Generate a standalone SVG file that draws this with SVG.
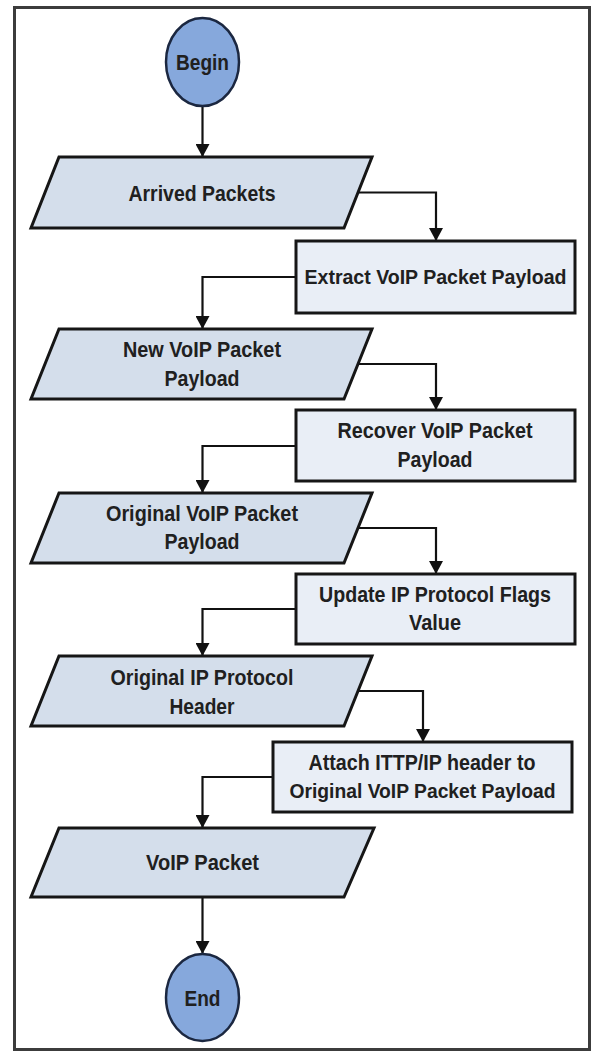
<svg xmlns="http://www.w3.org/2000/svg" width="592" height="1053" viewBox="0 0 592 1053">
<style>
.frame{fill:#ffffff;stroke:#3c3c3c;stroke-width:3}
.term{fill:#86a8dc;stroke:#1b2740;stroke-width:2.5}
.io{fill:#d4deeb;stroke:#161616;stroke-width:3;stroke-linejoin:miter}
.proc{fill:#e9eef6;stroke:#161616;stroke-width:3}
.conn{fill:none;stroke:#111111;stroke-width:2.2;marker-end:url(#arrow)}
text{font-family:"Liberation Sans",Arial,sans-serif;font-weight:bold;font-size:22.5px;fill:#202020;text-anchor:middle}
text.long{font-size:20px}
</style>
<defs>
<marker id="arrow" markerUnits="userSpaceOnUse" markerWidth="13" markerHeight="14" refX="13" refY="7" orient="auto">
<path d="M0,0 L13,7 L0,14 z" fill="#111111"/>
</marker>
</defs>
<rect class="frame" x="14.5" y="7.5" width="575" height="1042"/>
<g id="connectors">
<path class="conn" d="M202.5,106 V157"/>
<path class="conn" d="M358,192.5 H436 V241"/>
<path class="conn" d="M296,277 H202.5 V329"/>
<path class="conn" d="M358,364 H436 V410"/>
<path class="conn" d="M296,446 H202.5 V493"/>
<path class="conn" d="M358,528 H436 V574"/>
<path class="conn" d="M296,609 H202.5 V656"/>
<path class="conn" d="M358,691 H423 V742"/>
<path class="conn" d="M273,777 H202.5 V828"/>
<path class="conn" d="M202.5,897 V954"/>
</g>
<g id="begin">
<ellipse class="term" cx="202.5" cy="62" rx="36.5" ry="44"/>
<text x="202.5" y="70" textLength="53" lengthAdjust="spacingAndGlyphs">Begin</text>
</g>
<g id="arrived-packets">
<polygon class="io" points="59,157 372,157 344,228 31,228"/>
<text x="202" y="200.5" textLength="147" lengthAdjust="spacingAndGlyphs">Arrived Packets</text>
</g>
<g id="extract-payload">
<rect class="proc" x="296" y="241" width="279" height="72"/>
<text class="long" x="435.5" y="284" textLength="262" lengthAdjust="spacingAndGlyphs">Extract VoIP Packet Payload</text>
</g>
<g id="new-payload">
<polygon class="io" points="59,329 372,329 344,399 31,399"/>
<text x="202" y="357" textLength="158" lengthAdjust="spacingAndGlyphs">New VoIP Packet</text>
<text x="202" y="386" textLength="75" lengthAdjust="spacingAndGlyphs">Payload</text>
</g>
<g id="recover-payload">
<rect class="proc" x="296" y="410" width="279" height="71"/>
<text x="435" y="438" textLength="195" lengthAdjust="spacingAndGlyphs">Recover VoIP Packet</text>
<text x="435" y="467" textLength="75" lengthAdjust="spacingAndGlyphs">Payload</text>
</g>
<g id="original-payload">
<polygon class="io" points="59,493 372,493 344,563 31,563"/>
<text x="202" y="521" textLength="192" lengthAdjust="spacingAndGlyphs">Original VoIP Packet</text>
<text x="202" y="549" textLength="75" lengthAdjust="spacingAndGlyphs">Payload</text>
</g>
<g id="update-flags">
<rect class="proc" x="296" y="574" width="279" height="70"/>
<text x="435" y="602" textLength="232" lengthAdjust="spacingAndGlyphs">Update IP Protocol Flags</text>
<text x="435" y="630" textLength="52" lengthAdjust="spacingAndGlyphs">Value</text>
</g>
<g id="original-header">
<polygon class="io" points="59,656 372,656 344,726 31,726"/>
<text x="202" y="685" textLength="183" lengthAdjust="spacingAndGlyphs">Original IP Protocol</text>
<text x="202" y="714" textLength="65" lengthAdjust="spacingAndGlyphs">Header</text>
</g>
<g id="attach-header">
<rect class="proc" x="273" y="742" width="299" height="70"/>
<text x="422" y="770" textLength="227" lengthAdjust="spacingAndGlyphs">Attach ITTP/IP header to</text>
<text class="long" x="422.5" y="797.5" textLength="266" lengthAdjust="spacingAndGlyphs">Original VoIP Packet Payload</text>
</g>
<g id="voip-packet">
<polygon class="io" points="59,828 374,828 344,897 31,897"/>
<text x="202.5" y="870" textLength="113" lengthAdjust="spacingAndGlyphs">VoIP Packet</text>
</g>
<g id="end">
<ellipse class="term" cx="202.5" cy="997.5" rx="36.5" ry="43.5"/>
<text x="202.5" y="1005.5" textLength="36" lengthAdjust="spacingAndGlyphs">End</text>
</g>
</svg>
